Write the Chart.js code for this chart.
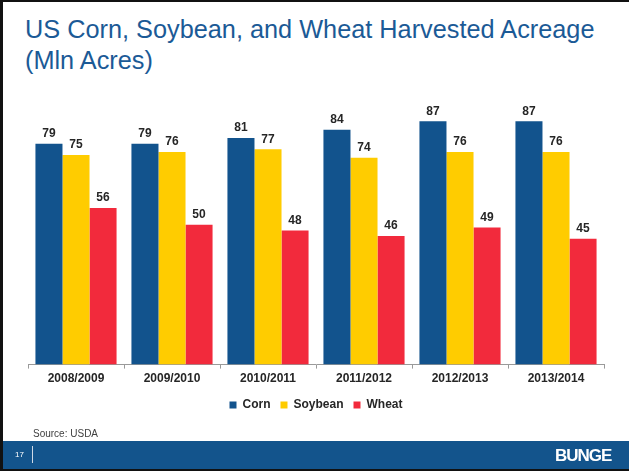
<!DOCTYPE html>
<html>
<head>
<meta charset="utf-8">
<script src="https://cdn.jsdelivr.net/npm/chart.js@4/dist/chart.umd.min.js"></script>
<style>
  html, body { margin: 0; padding: 0; background: #fff; }
  #slide { position: relative; width: 629px; height: 471px; overflow: hidden; background: #fff; font-family: "Liberation Sans", Arial, sans-serif; }
  #frameTop { position: absolute; left: 0; top: 0; width: 629px; height: 2px; background: #111; }
  #frameLeft { position: absolute; left: 0; top: 0; width: 3px; height: 471px; background: #111; }
  #frameBottom { position: absolute; left: 0; top: 469px; width: 629px; height: 2px; background: #111; }
  #title { position: absolute; left: 25px; top: 14px; font-size: 25.3px; line-height: 30.5px; color: #1B5A96; white-space: nowrap; }
  #chartBox { position: absolute; left: 0; top: 0; width: 629px; height: 430px; }
  #source { position: absolute; left: 33px; top: 428px; font-size: 10px; color: #404040; }
  #footer { position: absolute; left: 3px; top: 441px; width: 626px; height: 28px; background: #13548C; }
  #pagenum { position: absolute; left: 12px; top: 9px; font-size: 8px; color: #fff; }
  #vline { position: absolute; left: 29px; top: 5px; width: 1px; height: 17px; background: #cfd9e6; }
  #logo { position: absolute; left: 552px; top: 5px; font-size: 17px; font-weight: bold; color: #fff; letter-spacing: -1px; font-family: "Liberation Sans", Arial, sans-serif; }
</style>
</head>
<body>
<div id="slide">
  <div id="title">US Corn, Soybean, and Wheat Harvested Acreage<br>(Mln Acres)</div>
  <div id="chartBox"><canvas id="c" width="629" height="430"></canvas></div>
  <div id="source">Source: USDA</div>
  <div id="footer">
    <div id="pagenum">17</div>
    <div id="vline"></div>
    <div id="logo">BUNGE</div>
  </div>
  <div id="frameTop"></div>
  <div id="frameLeft"></div>
  <div id="frameBottom"></div>
</div>
<script>
const categories = ["2008/2009", "2009/2010", "2010/2011", "2011/2012", "2012/2013", "2013/2014"];
const corn = [79, 79, 81, 84, 87, 87];
const soybean = [75, 76, 77, 74, 76, 76];
const wheat = [56, 50, 48, 46, 49, 45];
const seriesNames = ["Corn", "Soybean", "Wheat"];
const seriesColors = ["#12538D", "#FFCC00", "#F22A3C"];

const valueLabels = {
  id: 'valueLabels',
  afterDatasetsDraw(chart) {
    const ctx = chart.ctx;
    ctx.save();
    ctx.font = 'bold 12px "Liberation Sans", Arial, sans-serif';
    ctx.fillStyle = '#262626';
    ctx.textAlign = 'center';
    ctx.textBaseline = 'bottom';
    chart.data.datasets.forEach((ds, i) => {
      const meta = chart.getDatasetMeta(i);
      meta.data.forEach((bar, j) => {
        ctx.fillText(String(ds.data[j]), bar.x, bar.y - 4);
      });
    });
    ctx.restore();
  }
};

new Chart(document.getElementById('c'), {
  type: 'bar',
  data: {
    labels: categories,
    datasets: [
      { label: seriesNames[0], data: corn, backgroundColor: seriesColors[0] },
      { label: seriesNames[1], data: soybean, backgroundColor: seriesColors[1] },
      { label: seriesNames[2], data: wheat, backgroundColor: seriesColors[2] }
    ]
  },
  options: {
    responsive: false,
    animation: false,
    devicePixelRatio: 1,
    layout: { padding: { left: 28, right: 25, top: 85, bottom: 9 } },
    datasets: { bar: { categoryPercentage: 0.845, barPercentage: 1.0 } },
    scales: {
      x: {
        grid: { display: true, drawOnChartArea: false, drawTicks: true, tickLength: 4, color: '#9a9a9a', offset: true },
        border: { display: true, color: '#9a9a9a', width: 1 },
        ticks: { color: '#262626', font: { family: '"Liberation Sans", Arial, sans-serif', size: 12, weight: 'bold' }, padding: 3 }
      },
      y: { display: false, min: 0, max: 100 }
    },
    plugins: {
      legend: {
        position: 'bottom',
        labels: {
          boxWidth: 7, boxHeight: 7, padding: 10,
          color: '#262626',
          font: { family: '"Liberation Sans", Arial, sans-serif', size: 12, weight: 'bold' }
        }
      },
      tooltip: { enabled: false },
      title: { display: false }
    }
  },
  plugins: [valueLabels]
});
</script>
</body>
</html>
